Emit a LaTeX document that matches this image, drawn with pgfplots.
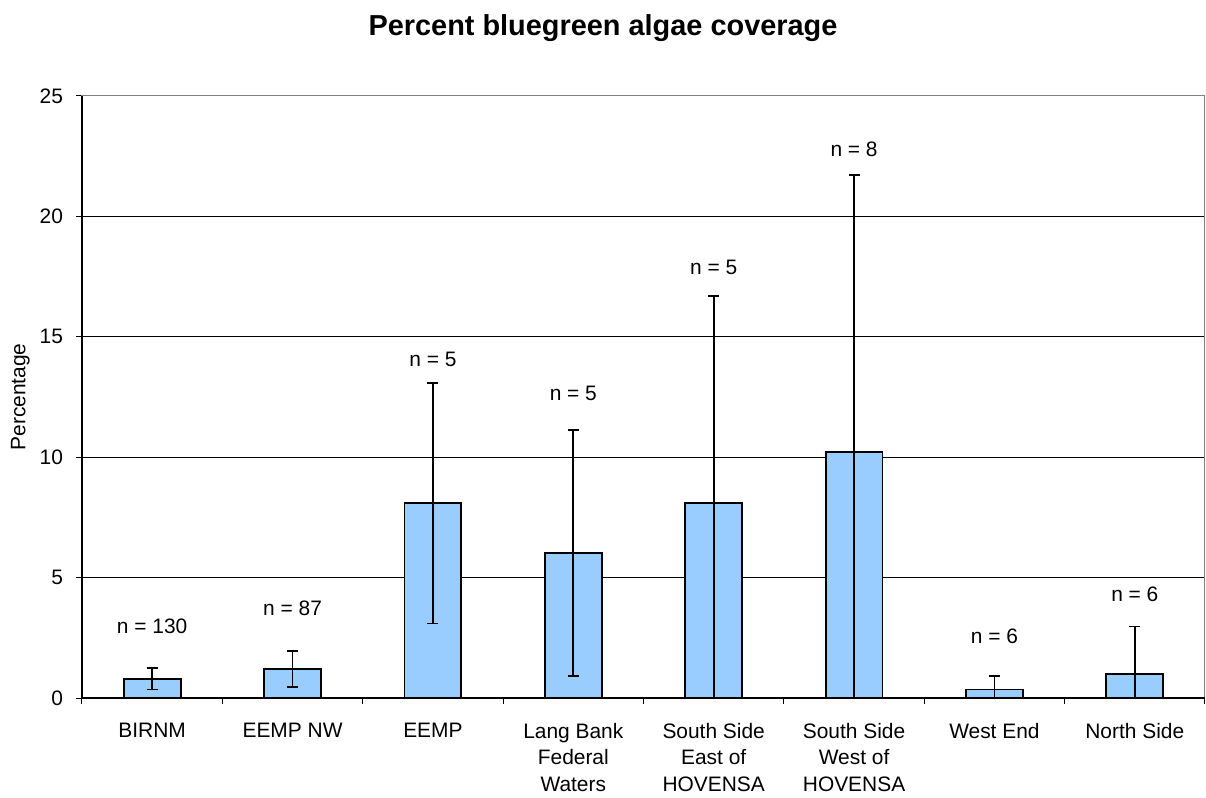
\documentclass[border=0pt]{standalone}
\usepackage{pgfplots}
\pgfplotsset{compat=1.18}
\usepackage{pgfplotstable}
\usepackage{fontspec}
\setmainfont{Liberation Sans}
\definecolor{barblue}{HTML}{99CCFF}
\pgfplotstableread{
x y err
0 0.80 0.45
1 1.20 0.74
2 8.09 5.00
3 6.02 5.11
4 8.11 8.58
5 10.21 11.52
6 0.35 0.55
7 1.00 1.97
}\datatable
\begin{document}
\begin{tikzpicture}
\useasboundingbox (-41bp,-50bp) rectangle (562bp,349bp);
\begin{axis}[
  name=ax,
  at={(0,0)}, anchor=south west,
  scale only axis, width=561.5bp, height=301bp,
  xmin=-0.5, xmax=7.5, ymin=0, ymax=25,
  ytick={0,5,...,25},
  ymajorgrids, grid style={black, line width=0.5bp},
  xtick={-0.5,0.5,...,7.5},
  x tick label as interval,
  xticklabels={BIRNM, EEMP NW, EEMP, Lang Bank\\Federal\\Waters, South Side\\East of\\HOVENSA, South Side\\West of\\HOVENSA, West End, North Side},
  xticklabel style={align=center, font=\fontsize{10.5}{13.25}\selectfont, anchor=north, yshift=-6bp},
  yticklabel style={font=\fontsize{10.5}{12}\selectfont, xshift=-3bp},
  /pgf/number format/assume math mode=true,
  tick align=outside, xtick pos=left, ytick pos=left,
  major tick length=3bp,
  tick style={black, line width=0.5bp},
  axis line style={draw=gray, line width=0.5bp},
  ylabel={Percentage},
  ylabel style={at={(axis description cs:-0.055,0.5)}, anchor=center, font=\fontsize{10.5}{12}\selectfont},
]
\addplot[ybar, bar width=0.405, fill=barblue, draw=black, line width=0.9bp,
  error bars/.cd, y dir=both, y explicit,
  error bar style={line width=0.9bp, black},
  error mark options={rotate=90, mark size=2.75bp, line width=0.9bp, black}]
  table[x=x, y=y, y error=err] {\datatable};
\begin{scope}[font=\fontsize{10.5}{12}\selectfont]
\node at (axis cs:0,2.96) {n = 130};
\node at (axis cs:1,3.71) {n = 87};
\node at (axis cs:2,14.07) {n = 5};
\node at (axis cs:3,12.66) {n = 5};
\node at (axis cs:4,17.87) {n = 5};
\node at (axis cs:5,22.8) {n = 8};
\node at (axis cs:6,2.58) {n = 6};
\node at (axis cs:7,4.31) {n = 6};
\end{scope}
\end{axis}
\draw[black, line width=0.75bp] (ax.north west) -- (ax.south west) -- (ax.south east);
\node[font=\bfseries\fontsize{14.5}{17}\selectfont] at (260.5bp,335bp) {Percent bluegreen algae coverage};
\end{tikzpicture}
\end{document}
